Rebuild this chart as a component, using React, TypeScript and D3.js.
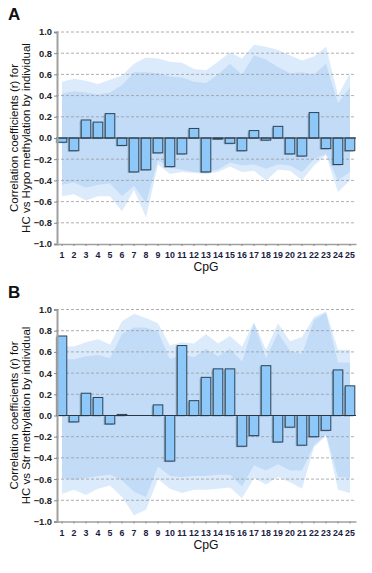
import React, { useEffect, useRef } from 'react';
import * as d3 from 'd3';

const cpg = ['1','2','3','4','5','6','7','8','9','10','11','12','13','14','15','16','17','18','19','20','21','22','23','24','25'];
const yTicks = [1.0, 0.8, 0.6, 0.4, 0.2, 0.0, -0.2, -0.4, -0.6, -0.8, -1.0];

// panel A: HC vs Hypo
const hypoR = [-0.04, -0.12, 0.17, 0.15, 0.23, -0.07, -0.32, -0.30, -0.14, -0.27, -0.15, 0.09, -0.32, -0.01, -0.05, -0.12, 0.07, -0.02, 0.11, -0.15, -0.17, 0.24, -0.10, -0.25, -0.12];
const hypoOuterHi = [0.53, 0.56, 0.54, 0.51, 0.55, 0.59, 0.70, 0.76, 0.75, 0.72, 0.71, 0.65, 0.64, 0.72, 0.81, 0.75, 0.88, 0.86, 0.83, 0.78, 0.73, 0.77, 0.86, 0.40, 0.61];
const hypoInnerHi = [0.42, 0.44, 0.43, 0.41, 0.43, 0.50, 0.62, 0.62, 0.61, 0.58, 0.57, 0.53, 0.52, 0.60, 0.70, 0.60, 0.78, 0.74, 0.67, 0.61, 0.62, 0.60, 0.70, 0.33, 0.48];
const hypoInnerLo = [-0.44, -0.42, -0.47, -0.44, -0.43, -0.55, -0.45, -0.61, -0.21, -0.28, -0.30, -0.32, -0.32, -0.30, -0.23, -0.26, -0.25, -0.29, -0.25, -0.26, -0.32, -0.20, -0.15, -0.40, -0.32];
const hypoOuterLo = [-0.55, -0.53, -0.59, -0.55, -0.55, -0.69, -0.49, -0.75, -0.25, -0.34, -0.32, -0.33, -0.34, -0.32, -0.27, -0.32, -0.31, -0.40, -0.30, -0.31, -0.40, -0.26, -0.16, -0.51, -0.40];

// panel B: HC vs Str
const strR = [0.75, -0.06, 0.21, 0.17, -0.08, 0.01, 0, 0, 0.10, -0.43, 0.66, 0.14, 0.36, 0.44, 0.44, -0.29, -0.19, 0.47, -0.25, -0.11, -0.28, -0.20, -0.14, 0.43, 0.28];
const strOuterHi = [0.65, 0.65, 0.69, 0.72, 0.67, 0.89, 0.96, 0.92, 0.87, 0.66, 0.69, 0.68, 0.77, 0.68, 0.75, 0.65, 0.88, 0.62, 0.87, 0.70, 0.74, 0.93, 0.98, 0.62, 0.62];
const strInnerHi = [0.53, 0.53, 0.56, 0.57, 0.54, 0.77, 0.83, 0.83, 0.79, 0.53, 0.58, 0.55, 0.63, 0.56, 0.63, 0.51, 0.87, 0.54, 0.78, 0.61, 0.58, 0.90, 0.97, 0.50, 0.50];
const strInnerLo = [-0.59, -0.61, -0.59, -0.57, -0.56, -0.61, -0.72, -0.77, -0.48, -0.57, -0.58, -0.57, -0.57, -0.56, -0.56, -0.67, -0.47, -0.52, -0.46, -0.52, -0.52, -0.28, -0.18, -0.58, -0.59];
const strOuterLo = [-0.74, -0.70, -0.75, -0.69, -0.66, -0.77, -0.94, -0.89, -0.60, -0.69, -0.73, -0.70, -0.70, -0.69, -0.68, -0.78, -0.59, -0.65, -0.58, -0.63, -0.69, -0.30, -0.19, -0.70, -0.73];

type PanelProps = {
  letter: string;
  top: number;
  label2: string;
  r: number[];
  outerHi: number[];
  innerHi: number[];
  innerLo: number[];
  outerLo: number[];
};

function drawPanel(svg: d3.Selection<SVGSVGElement, unknown, null, undefined>, p: PanelProps) {
  const left = 56, right = 356;
  const yTop = p.top, yBot = p.top + 212;
  const g = svg.append('g');

  const x = d3.scaleBand<string>().domain(cpg).range([left, right]).paddingInner(0.2).paddingOuter(0.1);
  const y = d3.scaleLinear().domain([-1, 1]).range([yBot, yTop]);
  const cx = (i: number) => (x(cpg[i]) as number) + x.bandwidth() / 2;

  const font = 'Liberation Sans, Arial, sans-serif';

  g.append('text').attr('x', 8).attr('y', yTop - 12).text(p.letter)
    .attr('font-family', font).attr('font-weight', 'bold').attr('font-size', 17).attr('fill', '#111');

  // bands
  const band = (hi: number[], lo: number[]) => d3.area<number>()
    .x((_, i) => cx(i)).y0((_, i) => y(lo[i])).y1((_, i) => y(hi[i]));
  g.append('path').attr('d', band(p.outerHi, p.outerLo)(cpg.map((_, i) => i)) as string).attr('fill', '#dcebfc');
  g.append('path').attr('d', band(p.innerHi, p.innerLo)(cpg.map((_, i) => i)) as string).attr('fill', '#c2dcf8');

  // grid
  g.selectAll('line.grid').data(yTicks.filter(t => t !== 0 && t !== -1)).enter().append('line')
    .attr('x1', left).attr('x2', right).attr('y1', d => y(d)).attr('y2', d => y(d))
    .attr('stroke', '#9a9a9a').attr('stroke-width', 0.8).attr('stroke-dasharray', '3,2');

  // bars
  const bw = x.bandwidth();
  const bars = g.selectAll('g.bar').data(p.r).enter().append('g');
  bars.append('rect')
    .attr('x', (_, i) => (x(cpg[i]) as number) - 1.5)
    .attr('y', d => Math.min(y(d), y(0)) + 1)
    .attr('width', bw).attr('height', d => Math.abs(y(d) - y(0)))
    .attr('fill', '#6c7d8c').attr('opacity', 0.55);
  bars.append('rect')
    .attr('x', (_, i) => x(cpg[i]) as number)
    .attr('y', d => Math.min(y(d), y(0)))
    .attr('width', bw).attr('height', d => Math.abs(y(d) - y(0)))
    .attr('fill', '#8ec8f8').attr('stroke', '#2c4256').attr('stroke-width', 1);

  // zero line
  g.append('line').attr('x1', left).attr('x2', right).attr('y1', y(0)).attr('y2', y(0))
    .attr('stroke', '#2c3640').attr('stroke-width', 1.2);

  // y axis
  const ya = g.append('g').attr('transform', `translate(${left + 1},0)`)
    .call(d3.axisLeft(y).tickValues(yTicks).tickFormat(d3.format('.1f')).tickSize(3).tickPadding(2));
  ya.select('.domain').attr('stroke', '#a0a0a0').attr('stroke-width', 2);
  ya.selectAll('.tick line').attr('stroke', '#888');
  ya.selectAll('.tick text').attr('font-family', font).attr('font-weight', 'bold').attr('font-size', 9.3).attr('fill', '#222');

  // x axis
  const xa = g.append('g').attr('transform', `translate(0,${yBot})`)
    .call(d3.axisBottom(x).tickSize(2).tickPadding(6).tickSizeOuter(0));
  xa.select('.domain').attr('stroke', '#a0a0a0').attr('stroke-width', 1.5);
  xa.selectAll('.tick line').attr('stroke', '#888');
  xa.selectAll('.tick text').attr('font-family', font).attr('font-weight', 'bold').attr('font-size', 8.8).attr('fill', '#1a2040');

  g.append('text').attr('x', (left + right) / 2).attr('y', yBot + 27).attr('text-anchor', 'middle')
    .attr('font-family', font).attr('font-size', 12.2).attr('fill', '#111').text('CpG');

  const my = y(0);
  g.append('text').attr('transform', `translate(17.5,${my}) rotate(-90)`).attr('text-anchor', 'middle')
    .attr('font-family', font).attr('font-size', 11.5).attr('fill', '#111').text('Correlation coefficients (r) for');
  g.append('text').attr('transform', `translate(29.5,${my}) rotate(-90)`).attr('text-anchor', 'middle')
    .attr('font-family', font).attr('font-size', 11.5).attr('fill', '#111').text(p.label2);
}

export default function App() {
  const ref = useRef<SVGSVGElement>(null);

  useEffect(() => {
    const svg = d3.select(ref.current as SVGSVGElement);
    svg.selectAll('*').remove();
    drawPanel(svg, { letter: 'A', top: 32, label2: 'HC vs Hypo methylation by individual', r: hypoR,
      outerHi: hypoOuterHi, innerHi: hypoInnerHi, innerLo: hypoInnerLo, outerLo: hypoOuterLo });
    drawPanel(svg, { letter: 'B', top: 309.5, label2: 'HC vs Str methylation by individual', r: strR,
      outerHi: strOuterHi, innerHi: strInnerHi, innerLo: strInnerLo, outerLo: strOuterLo });
  }, []);

  return <svg ref={ref} width={372} height={573} style={{ position: 'absolute', left: 0, top: 0, background: '#fff' }}></svg>;
}
